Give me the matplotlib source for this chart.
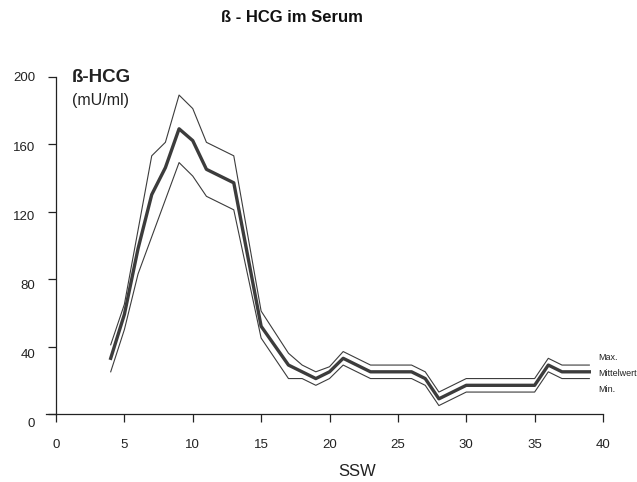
import matplotlib
matplotlib.use("Agg")
import matplotlib.pyplot as plt
import matplotlib.transforms as mtransforms

plt.rcParams['font.family'] = ['Liberation Sans', 'DejaVu Sans']

# Schwangerschaftswochen and beta-HCG values (mU/ml)
weeks = [4, 5, 6, 7, 8, 9, 10, 11, 13, 15, 17, 18, 19, 20, 21, 23, 26, 27, 28, 30, 35, 36, 37, 39]
hcg_max = [41, 65, 109, 153, 161, 189, 181, 161, 153, 61, 36, 29, 25, 28, 37, 29, 29, 25, 13, 21, 21, 33, 29, 29]
hcg_mean = [33, 59, 98, 130, 146, 169, 162, 145, 137, 52, 29, 25, 21, 25, 33, 25, 25, 21, 9, 17, 17, 29, 25, 25]
hcg_min = [25, 50, 83, 105, 127, 149, 141, 129, 121, 45, 21, 21, 17, 21, 29, 21, 21, 17, 5, 13, 13, 25, 21, 21]

x_ticks = [0, 5, 10, 15, 20, 25, 30, 35, 40]
y_ticks = [0, 40, 80, 120, 160, 200]

line_col = '#3c3c3c'

fig = plt.figure(figsize=(6.37, 4.82), dpi=100)
ax = fig.add_axes([56 / 637, 1 - 414 / 482, 547 / 637, 337.5 / 482])

ax.plot(weeks, hcg_max, color=line_col, lw=0.8)
ax.plot(weeks, hcg_min, color=line_col, lw=0.8)
ax.plot(weeks, hcg_mean, color=line_col, lw=2.4)

ax.set_xlim(0, 40)
ax.set_ylim(0, 200)
ax.set_xticks(x_ticks)
ax.set_yticks(y_ticks)

for s in ['top', 'right']:
    ax.spines[s].set_visible(False)
for s in ['left', 'bottom']:
    ax.spines[s].set_color('#222222')
    ax.spines[s].set_linewidth(0.9)

ax.tick_params(axis='both', direction='out', length=6, width=0.9, colors='#222222',
               labelsize=9.5, labelcolor='#222222')
ax.tick_params(axis='x', pad=12)
ax.tick_params(axis='y', pad=9)

# y tick labels drift downwards relative to their ticks in the original
fig.canvas.draw()
for v, lbl in zip(y_ticks, ax.get_yticklabels()):
    shift = (200 - v) * 0.043 + 0.3
    offset = mtransforms.ScaledTranslation(0, -shift / 100, fig.dpi_scale_trans)
    lbl.set_transform(lbl.get_transform() + offset)

# extend bottom spine a bit to the left like the original
ax.plot([-0.7, 0], [0, 0], color='#222222', lw=0.9, clip_on=False)

fig.text(292 / 637, 1 - 18 / 482, 'ß - HCG im Serum', ha='center', va='center',
         fontsize=12, fontweight='bold', color='#111111')
fig.text(72 / 637, 1 - 78 / 482, 'ß-HCG', ha='left', va='center',
         fontsize=13.5, fontweight='bold', color='#222222')
fig.text(72 / 637, 1 - 100 / 482, '(mU/ml)', ha='left', va='center',
         fontsize=11.5, color='#222222')
fig.text(357 / 637, 1 - 471 / 482, 'SSW', ha='center', va='center',
         fontsize=12, color='#222222')

fig.text(598 / 637, 1 - 358 / 482, 'Max.', ha='left', va='center', fontsize=6.5, color='#222222')
fig.text(598 / 637, 1 - 374 / 482, 'Mittelwert', ha='left', va='center', fontsize=6.5, color='#222222')
fig.text(598 / 637, 1 - 389 / 482, 'Min.', ha='left', va='center', fontsize=6.5, color='#222222')

fig.savefig('out.png', dpi=100)
